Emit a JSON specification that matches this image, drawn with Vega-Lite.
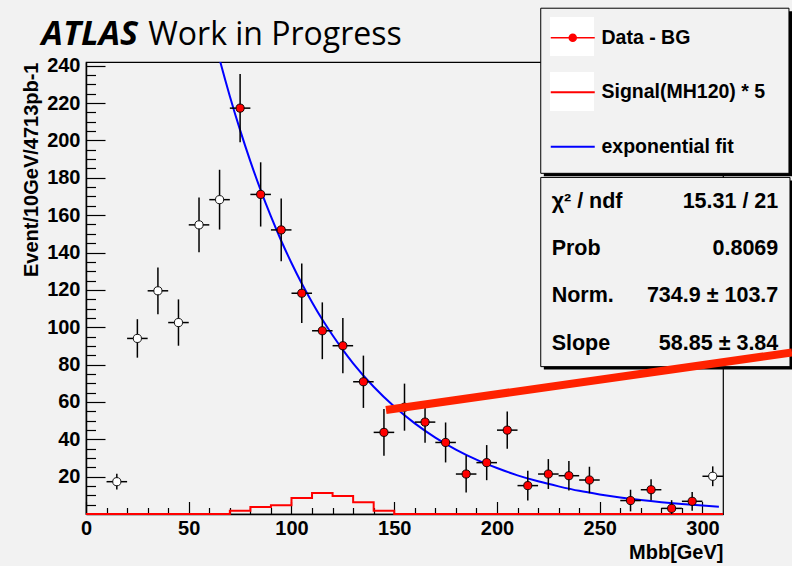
{
  "$schema": "https://vega.github.io/schema/vega-lite/v6.json",
  "width": 637,
  "height": 452,
  "autosize": {"type": "none"},
  "padding": {"left": 86, "top": 62, "right": 69, "bottom": 52},
  "background": "#f2f2f2",
  "config": {
    "view": {"stroke": "black", "strokeWidth": 1.2, "fill": null},
    "font": "Liberation Sans",
    "axis": {
      "grid": false,
      "domainColor": "black",
      "domainWidth": 1.5,
      "tickColor": "black",
      "tickWidth": 1.2,
      "labelColor": "black",
      "titleColor": "black",
      "labelFont": "Liberation Sans",
      "labelFontWeight": "bold",
      "labelFontSize": 20,
      "titleFont": "Liberation Sans",
      "titleFontWeight": "bold",
      "titleFontSize": 20,
      "labelFlush": false,
      "labelOverlap": false
    }
  },
  "resolve": {"axis": {"x": "independent", "y": "independent"}},
  "layer": [
    {
      "data": {"values": [{}]},
      "mark": {"type": "rect", "fill": "black", "clip": false},
      "encoding": {
        "x": {"datum": 222.8, "type": "quantitative", "scale": {"domain": [0, 310], "nice": false, "zero": false}, "axis": null},
        "x2": {"datum": 343.6},
        "y": {"datum": 269.2, "type": "quantitative", "scale": {"domain": [0, 242], "nice": false, "zero": false}, "axis": null},
        "y2": {"datum": 180.8}
      }
    },
    {
      "data": {"values": [{}]},
      "mark": {"type": "rect", "fill": "#f2f2f2", "stroke": "black", "strokeWidth": 1, "clip": false},
      "encoding": {
        "x": {"datum": 221.3, "type": "quantitative", "scale": {"domain": [0, 310], "nice": false, "zero": false}, "axis": null},
        "x2": {"datum": 342.1},
        "y": {"datum": 270.8, "type": "quantitative", "scale": {"domain": [0, 242], "nice": false, "zero": false}, "axis": null},
        "y2": {"datum": 182.4}
      }
    },
    {
      "data": {"values": [{}]},
      "mark": {"type": "rect", "fill": "black", "clip": false},
      "encoding": {
        "x": {"datum": 222.8, "type": "quantitative", "scale": {"domain": [0, 310], "nice": false, "zero": false}, "axis": null},
        "x2": {"datum": 344.1},
        "y": {"datum": 178.6, "type": "quantitative", "scale": {"domain": [0, 242], "nice": false, "zero": false}, "axis": null},
        "y2": {"datum": 77.3}
      }
    },
    {
      "data": {"values": [{}]},
      "mark": {"type": "rect", "fill": "#f2f2f2", "stroke": "black", "strokeWidth": 1, "clip": false},
      "encoding": {
        "x": {"datum": 221.3, "type": "quantitative", "scale": {"domain": [0, 310], "nice": false, "zero": false}, "axis": null},
        "x2": {"datum": 342.6},
        "y": {"datum": 180.2, "type": "quantitative", "scale": {"domain": [0, 242], "nice": false, "zero": false}, "axis": null},
        "y2": {"datum": 78.9}
      }
    },
    {
      "data": {"values": [{}]},
      "mark": {"type": "rect", "fill": "#ffffff", "clip": false},
      "encoding": {
        "x": {"datum": 225.8, "type": "quantitative", "scale": {"domain": [0, 310], "nice": false, "zero": false}, "axis": null},
        "x2": {"datum": 247.2},
        "y": {"datum": 266.1, "type": "quantitative", "scale": {"domain": [0, 242], "nice": false, "zero": false}, "axis": null},
        "y2": {"datum": 245.2}
      }
    },
    {
      "data": {"values": [{}]},
      "mark": {"type": "rect", "fill": "#ffffff", "clip": false},
      "encoding": {
        "x": {"datum": 225.8, "type": "quantitative", "scale": {"domain": [0, 310], "nice": false, "zero": false}, "axis": null},
        "x2": {"datum": 247.2},
        "y": {"datum": 236.6, "type": "quantitative", "scale": {"domain": [0, 242], "nice": false, "zero": false}, "axis": null},
        "y2": {"datum": 215.8}
      }
    },
    {
      "data": {"values": [
        {"edge": 0, "events": 0, "series": "Signal(MH120) * 5"},
        {"edge": 10, "events": 0, "series": "Signal(MH120) * 5"},
        {"edge": 20, "events": 0, "series": "Signal(MH120) * 5"},
        {"edge": 30, "events": 0, "series": "Signal(MH120) * 5"},
        {"edge": 40, "events": 0, "series": "Signal(MH120) * 5"},
        {"edge": 50, "events": 0, "series": "Signal(MH120) * 5"},
        {"edge": 60, "events": 0, "series": "Signal(MH120) * 5"},
        {"edge": 70, "events": 1.8, "series": "Signal(MH120) * 5"},
        {"edge": 80, "events": 3.7, "series": "Signal(MH120) * 5"},
        {"edge": 90, "events": 4.7, "series": "Signal(MH120) * 5"},
        {"edge": 100, "events": 8.6, "series": "Signal(MH120) * 5"},
        {"edge": 110, "events": 11.3, "series": "Signal(MH120) * 5"},
        {"edge": 120, "events": 9.6, "series": "Signal(MH120) * 5"},
        {"edge": 130, "events": 6.3, "series": "Signal(MH120) * 5"},
        {"edge": 140, "events": 1.7, "series": "Signal(MH120) * 5"},
        {"edge": 150, "events": 0, "series": "Signal(MH120) * 5"},
        {"edge": 160, "events": 0, "series": "Signal(MH120) * 5"},
        {"edge": 170, "events": 0, "series": "Signal(MH120) * 5"},
        {"edge": 180, "events": 0, "series": "Signal(MH120) * 5"},
        {"edge": 190, "events": 0, "series": "Signal(MH120) * 5"},
        {"edge": 200, "events": 0, "series": "Signal(MH120) * 5"},
        {"edge": 210, "events": 0, "series": "Signal(MH120) * 5"},
        {"edge": 220, "events": 0, "series": "Signal(MH120) * 5"},
        {"edge": 230, "events": 0, "series": "Signal(MH120) * 5"},
        {"edge": 240, "events": 0, "series": "Signal(MH120) * 5"},
        {"edge": 250, "events": 0, "series": "Signal(MH120) * 5"},
        {"edge": 260, "events": 0, "series": "Signal(MH120) * 5"},
        {"edge": 270, "events": 0, "series": "Signal(MH120) * 5"},
        {"edge": 280, "events": 0, "series": "Signal(MH120) * 5"},
        {"edge": 290, "events": 0, "series": "Signal(MH120) * 5"},
        {"edge": 300, "events": 0, "series": "Signal(MH120) * 5"},
        {"edge": 310, "events": 0, "series": "Signal(MH120) * 5"}
      ]},
      "mark": {"type": "line", "interpolate": "step-after", "strokeWidth": 2, "clip": false},
      "encoding": {
        "x": {"field": "edge", "type": "quantitative", "scale": {"domain": [0, 310], "nice": false, "zero": false},
          "axis": {"orient": "bottom", "values": [0, 50, 100, 150, 200, 250, 300], "format": "d", "tickSize": -12.5, "labelPadding": 17, "title": "Mbb[GeV]", "titleAnchor": "end", "titleAlign": "right", "titlePadding": 4}},
        "y": {"field": "events", "type": "quantitative", "scale": {"domain": [0, 242], "nice": false, "zero": false},
          "axis": {"orient": "left", "values": [20, 40, 60, 80, 100, 120, 140, 160, 180, 200, 220, 240], "format": "d", "tickSize": -19, "labelPadding": 25, "title": "Event/10GeV/4713pb-1", "titleAnchor": "end", "titlePadding": 5}},
        "color": {"field": "series", "type": "nominal",
          "scale": {"domain": ["Data - BG", "Signal(MH120) * 5", "exponential fit"], "range": ["#ff0000", "#ff0000", "#0000ff"]},
          "legend": {"title": null, "orient": "none", "legendX": 477, "legendY": -34, "direction": "vertical", "symbolType": "stroke", "symbolSize": 1936, "symbolStrokeWidth": 2, "labelFont": "Liberation Sans", "labelFontSize": 19.5, "labelFontWeight": "bold", "labelColor": "black", "labelOffset": 19, "rowPadding": 33.5, "padding": 0, "labelLimit": 400,
            "encode": {"symbols": {"update": {
              "shape": {"signal": "datum.value === 'Data - BG' ? 'M-1,0H1M-0.16,0A0.16,0.16,0,1,0,0.16,0A0.16,0.16,0,1,0,-0.16,0Z' : 'stroke'"},
              "fill": {"signal": "datum.value === 'Data - BG' ? '#ff0000' : 'transparent'"},
              "stroke": {"signal": "datum.value === 'Data - BG' ? '#707070' : (datum.value === 'exponential fit' ? '#0000ff' : '#ff0000')"},
              "strokeWidth": {"signal": "datum.value === 'Data - BG' ? 1.5 : 2"},
              "opacity": {"value": 1}
            }}}}}
      }
    },
    {
      "data": {"values": [
        {"mbb": 60, "fit": 265.1, "series": "exponential fit"},
        {"mbb": 65, "fit": 243.5, "series": "exponential fit"},
        {"mbb": 70, "fit": 223.7, "series": "exponential fit"},
        {"mbb": 75, "fit": 205.5, "series": "exponential fit"},
        {"mbb": 80, "fit": 188.8, "series": "exponential fit"},
        {"mbb": 85, "fit": 173.4, "series": "exponential fit"},
        {"mbb": 90, "fit": 159.3, "series": "exponential fit"},
        {"mbb": 95, "fit": 146.3, "series": "exponential fit"},
        {"mbb": 100, "fit": 134.4, "series": "exponential fit"},
        {"mbb": 105, "fit": 123.4, "series": "exponential fit"},
        {"mbb": 110, "fit": 113.4, "series": "exponential fit"},
        {"mbb": 115, "fit": 104.1, "series": "exponential fit"},
        {"mbb": 120, "fit": 95.7, "series": "exponential fit"},
        {"mbb": 125, "fit": 87.9, "series": "exponential fit"},
        {"mbb": 130, "fit": 80.7, "series": "exponential fit"},
        {"mbb": 140, "fit": 68.1, "series": "exponential fit"},
        {"mbb": 150, "fit": 57.5, "series": "exponential fit"},
        {"mbb": 160, "fit": 48.5, "series": "exponential fit"},
        {"mbb": 170, "fit": 40.9, "series": "exponential fit"},
        {"mbb": 180, "fit": 34.5, "series": "exponential fit"},
        {"mbb": 190, "fit": 29.1, "series": "exponential fit"},
        {"mbb": 200, "fit": 24.6, "series": "exponential fit"},
        {"mbb": 210, "fit": 20.7, "series": "exponential fit"},
        {"mbb": 220, "fit": 17.5, "series": "exponential fit"},
        {"mbb": 230, "fit": 14.8, "series": "exponential fit"},
        {"mbb": 240, "fit": 12.4, "series": "exponential fit"},
        {"mbb": 250, "fit": 10.5, "series": "exponential fit"},
        {"mbb": 260, "fit": 8.86, "series": "exponential fit"},
        {"mbb": 270, "fit": 7.48, "series": "exponential fit"},
        {"mbb": 280, "fit": 6.31, "series": "exponential fit"},
        {"mbb": 290, "fit": 5.32, "series": "exponential fit"},
        {"mbb": 300, "fit": 4.49, "series": "exponential fit"},
        {"mbb": 308, "fit": 3.92, "series": "exponential fit"}
      ]},
      "mark": {"type": "line", "interpolate": "monotone", "strokeWidth": 2, "clip": true},
      "encoding": {
        "x": {"field": "mbb", "type": "quantitative", "scale": {"domain": [0, 310], "nice": false, "zero": false},
          "axis": {"orient": "bottom", "values": [10, 20, 30, 40, 60, 70, 80, 90, 110, 120, 130, 140, 160, 170, 180, 190, 210, 220, 230, 240, 260, 270, 280, 290], "tickSize": -6.5, "labels": false, "domain": false, "title": null}},
        "y": {"field": "fit", "type": "quantitative", "scale": {"domain": [0, 242], "nice": false, "zero": false},
          "axis": {"orient": "left", "values": [5, 10, 15, 25, 30, 35, 45, 50, 55, 65, 70, 75, 85, 90, 95, 105, 110, 115, 125, 130, 135, 145, 150, 155, 165, 170, 175, 185, 190, 195, 205, 210, 215, 225, 230, 235], "tickSize": -9.5, "labels": false, "domain": false, "title": null}},
        "color": {"field": "series", "type": "nominal",
          "scale": {"domain": ["Data - BG", "Signal(MH120) * 5", "exponential fit"], "range": ["#ff0000", "#ff0000", "#0000ff"]},
          "legend": {"title": null, "orient": "none", "legendX": 477, "legendY": -34, "direction": "vertical", "symbolType": "stroke", "symbolSize": 1936, "symbolStrokeWidth": 2, "labelFont": "Liberation Sans", "labelFontSize": 19.5, "labelFontWeight": "bold", "labelColor": "black", "labelOffset": 19, "rowPadding": 33.5, "padding": 0, "labelLimit": 400,
            "encode": {"symbols": {"update": {
              "shape": {"signal": "datum.value === 'Data - BG' ? 'M-1,0H1M-0.16,0A0.16,0.16,0,1,0,0.16,0A0.16,0.16,0,1,0,-0.16,0Z' : 'stroke'"},
              "fill": {"signal": "datum.value === 'Data - BG' ? '#ff0000' : 'transparent'"},
              "stroke": {"signal": "datum.value === 'Data - BG' ? '#707070' : (datum.value === 'exponential fit' ? '#0000ff' : '#ff0000')"},
              "strokeWidth": {"signal": "datum.value === 'Data - BG' ? 1.5 : 2"},
              "opacity": {"value": 1}
            }}}}}
      }
    },
    {
      "data": {"name": "points", "values": [
        {"mbb": 15, "lo": 10, "hi": 20, "events": 17.3, "err": 4.2, "infit": false},
        {"mbb": 25, "lo": 20, "hi": 30, "events": 94.0, "err": 10.3, "infit": false},
        {"mbb": 35, "lo": 30, "hi": 40, "events": 119.5, "err": 12.5, "infit": false},
        {"mbb": 45, "lo": 40, "hi": 50, "events": 102.5, "err": 12.4, "infit": false},
        {"mbb": 55, "lo": 50, "hi": 60, "events": 154.8, "err": 14.7, "infit": false},
        {"mbb": 65, "lo": 60, "hi": 70, "events": 168.3, "err": 16.0, "infit": false},
        {"mbb": 75, "lo": 70, "hi": 80, "events": 217.3, "err": 18.3, "infit": true},
        {"mbb": 85, "lo": 80, "hi": 90, "events": 171.1, "err": 17.2, "infit": true},
        {"mbb": 95, "lo": 90, "hi": 100, "events": 152.1, "err": 16.8, "infit": true},
        {"mbb": 105, "lo": 100, "hi": 110, "events": 118.2, "err": 15.9, "infit": true},
        {"mbb": 115, "lo": 110, "hi": 120, "events": 98.1, "err": 15.2, "infit": true},
        {"mbb": 125, "lo": 120, "hi": 130, "events": 90.1, "err": 14.8, "infit": true},
        {"mbb": 135, "lo": 130, "hi": 140, "events": 70.8, "err": 14.0, "infit": true},
        {"mbb": 145, "lo": 140, "hi": 150, "events": 43.7, "err": 12.5, "infit": true},
        {"mbb": 155, "lo": 150, "hi": 160, "events": 57.2, "err": 12.6, "infit": true},
        {"mbb": 165, "lo": 160, "hi": 170, "events": 49.2, "err": 11.0, "infit": true},
        {"mbb": 175, "lo": 170, "hi": 180, "events": 38.3, "err": 10.7, "infit": true},
        {"mbb": 185, "lo": 180, "hi": 190, "events": 21.4, "err": 9.9, "infit": true},
        {"mbb": 195, "lo": 190, "hi": 200, "events": 27.5, "err": 9.4, "infit": true},
        {"mbb": 205, "lo": 200, "hi": 210, "events": 44.9, "err": 10.0, "infit": true},
        {"mbb": 215, "lo": 210, "hi": 220, "events": 15.2, "err": 8.0, "infit": true},
        {"mbb": 225, "lo": 220, "hi": 230, "events": 21.4, "err": 8.0, "infit": true},
        {"mbb": 235, "lo": 230, "hi": 240, "events": 20.5, "err": 7.9, "infit": true},
        {"mbb": 245, "lo": 240, "hi": 250, "events": 18.2, "err": 7.1, "infit": true},
        {"mbb": 265, "lo": 260, "hi": 270, "events": 7.2, "err": 5.8, "infit": true},
        {"mbb": 275, "lo": 270, "hi": 280, "events": 13.0, "err": 5.6, "infit": true},
        {"mbb": 285, "lo": 280, "hi": 290, "events": 3.0, "err": 4.4, "infit": true},
        {"mbb": 295, "lo": 290, "hi": 300, "events": 6.8, "err": 5.0, "infit": true},
        {"mbb": 305, "lo": 300, "hi": 310, "events": 20.2, "err": 5.3, "infit": false}
      ]},
      "layer": [
        {
          "mark": {"type": "errorbar", "ticks": false, "thickness": 1.5, "color": "black", "clip": true},
          "encoding": {
            "x": {"field": "mbb", "type": "quantitative", "scale": {"domain": [0, 310], "nice": false, "zero": false}, "axis": null},
            "y": {"field": "events", "type": "quantitative", "scale": {"domain": [0, 242], "nice": false, "zero": false}, "axis": null},
            "yError": {"field": "err"}
          }
        },
        {
          "mark": {"type": "rule", "color": "black", "strokeWidth": 1.5, "clip": true},
          "encoding": {
            "x": {"field": "lo", "type": "quantitative", "scale": {"domain": [0, 310], "nice": false, "zero": false}, "axis": null},
            "x2": {"field": "hi"},
            "y": {"field": "events", "type": "quantitative", "scale": {"domain": [0, 242], "nice": false, "zero": false}, "axis": null}
          }
        },
        {
          "mark": {"type": "point", "filled": true, "shape": "circle", "size": 66, "stroke": "black", "strokeWidth": 0.9, "opacity": 1, "clip": true},
          "encoding": {
            "x": {"field": "mbb", "type": "quantitative", "scale": {"domain": [0, 310], "nice": false, "zero": false}, "axis": null},
            "y": {"field": "events", "type": "quantitative", "scale": {"domain": [0, 242], "nice": false, "zero": false}, "axis": null},
            "fill": {"condition": {"test": "datum.infit", "value": "#ff0000"}, "value": "#ffffff"}
          }
        }
      ]
    },
    {
      "data": {"values": [{"word": "ATLAS"}]},
      "mark": {"type": "text", "font": "Open Sans", "fontSize": 34, "fontWeight": "bold", "fontStyle": "italic", "align": "left", "baseline": "alphabetic", "color": "black", "clip": false},
      "encoding": {
        "x": {"datum": -21.6, "type": "quantitative", "scale": {"domain": [0, 310], "nice": false, "zero": false}, "axis": null},
        "y": {"datum": 251.1, "type": "quantitative", "scale": {"domain": [0, 242], "nice": false, "zero": false}, "axis": null},
        "text": {"field": "word"}
      }
    },
    {
      "data": {"values": [{"word": "Work in Progress"}]},
      "mark": {"type": "text", "font": "Open Sans", "fontSize": 32, "align": "left", "baseline": "alphabetic", "color": "black", "clip": false},
      "encoding": {
        "x": {"datum": 30.3, "type": "quantitative", "scale": {"domain": [0, 310], "nice": false, "zero": false}, "axis": null},
        "y": {"datum": 251.1, "type": "quantitative", "scale": {"domain": [0, 242], "nice": false, "zero": false}, "axis": null},
        "text": {"field": "word"}
      }
    },
    {
      "data": {"values": [{"names": ["χ² / ndf", "Prob", "Norm.", "Slope"], "vals": ["15.31 / 21", "0.8069", "734.9 ± 103.7", "58.85 ±  3.84"]}]},
      "layer": [
        {
          "mark": {"type": "text", "font": "Liberation Sans", "fontSize": 21.5, "fontWeight": "bold", "align": "left", "baseline": "alphabetic", "lineHeight": 47.4, "color": "black", "clip": false},
          "encoding": {
            "x": {"datum": 226.6, "type": "quantitative", "scale": {"domain": [0, 310], "nice": false, "zero": false}, "axis": null},
            "y": {"datum": 164.0, "type": "quantitative", "scale": {"domain": [0, 242], "nice": false, "zero": false}, "axis": null},
            "text": {"field": "names"}
          }
        },
        {
          "mark": {"type": "text", "font": "Liberation Sans", "fontSize": 21.5, "fontWeight": "bold", "align": "right", "baseline": "alphabetic", "lineHeight": 47.4, "color": "black", "clip": false},
          "encoding": {
            "x": {"datum": 336.9, "type": "quantitative", "scale": {"domain": [0, 310], "nice": false, "zero": false}, "axis": null},
            "y": {"datum": 164.0, "type": "quantitative", "scale": {"domain": [0, 242], "nice": false, "zero": false}, "axis": null},
            "text": {"field": "vals"}
          }
        }
      ]
    },
    {
      "data": {"values": [{}]},
      "mark": {"type": "rule", "color": "#ff2200", "strokeWidth": 8, "strokeCap": "butt", "clip": false},
      "encoding": {
        "x": {"datum": 146.0, "type": "quantitative", "scale": {"domain": [0, 310], "nice": false, "zero": false}, "axis": null},
        "x2": {"datum": 343.6},
        "y": {"datum": 55.7, "type": "quantitative", "scale": {"domain": [0, 242], "nice": false, "zero": false}, "axis": null},
        "y2": {"datum": 86.5}
      }
    }
  ]
}
